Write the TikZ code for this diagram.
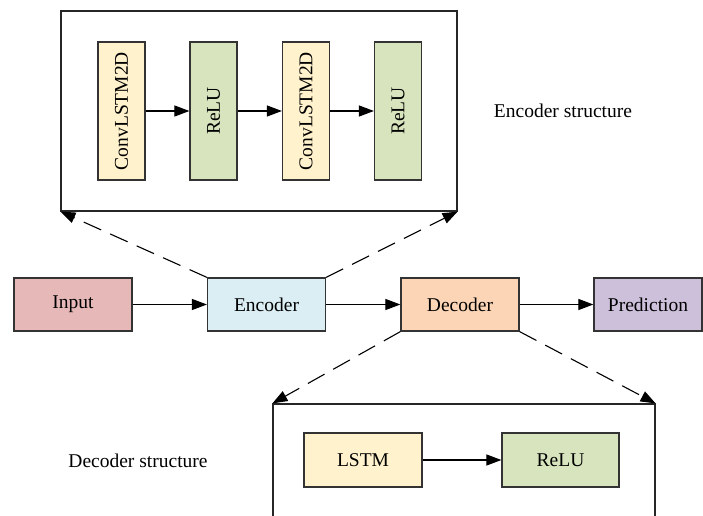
\documentclass[tikz,border=0pt]{standalone}
\usepackage{fontspec}
\setmainfont{Liberation Serif}
\usetikzlibrary{arrows.meta}
\definecolor{inputfill}{HTML}{E6B9B8}
\definecolor{encfill}{HTML}{DAEEF3}
\definecolor{decfill}{HTML}{FBD5B5}
\definecolor{predfill}{HTML}{CCC0DA}
\definecolor{lstmfill}{HTML}{FFF2CC}
\definecolor{relufill}{HTML}{D7E4BD}
\definecolor{boxline}{HTML}{333333}
\tikzset{
  txt/.style={font=\rmfamily\fontsize{19.5bp}{23bp}\selectfont},
  blk/.style={txt, draw=boxline, line width=1.2bp, inner sep=0pt},
  wide/.style={blk, minimum width=118bp, minimum height=53bp},
  tall/.style={blk, rotate=90, minimum width=138bp, minimum height=47bp},
  frame/.style={draw=black!85, line width=1.2bp, inner sep=0pt},
  flow/.style={-{Triangle[length=15bp,width=11bp]}, line width=1.1bp, black},
  zoomline/.style={-{Triangle[length=15bp,width=11bp]}, line width=1.1bp, black,
    dash pattern=on 19bp off 10bp}
}
\begin{document}
\begin{tikzpicture}[x=1bp, y=-1bp]
\clip (0,0) rectangle (703,516);
\fill[white] (0,0) rectangle (703,516);

% encoder detail frame
\node[frame, minimum width=396bp, minimum height=200bp] (encbox) at (259,111) {};
\node[tall, fill=lstmfill] (c1) at (121.5,111) {ConvLSTM2D};
\node[tall, fill=relufill] (r1) at (213.5,111) {ReLU};
\node[tall, fill=lstmfill] (c2) at (306,111) {ConvLSTM2D};
\node[tall, fill=relufill] (r2) at (398,111) {ReLU};
\draw[flow] (c1) -- (r1);
\draw[flow] (r1) -- (c2);
\draw[flow] (c2) -- (r2);
\node[txt] (enccap) at (563,111) {Encoder structure};

% main pipeline
\node[wide, fill=inputfill] (input) at (73,304.5) {Input};
\node[wide, fill=encfill] (enc) at (266.5,304.5) {Encoder};
\node[wide, fill=decfill] (dec) at (460,304.5) {Decoder};
\node[wide, fill=predfill, minimum width=108bp] (pred) at (648,304.5) {Prediction};
\draw[flow] (input) -- (enc);
\draw[flow] (enc) -- (dec);
\draw[flow] (dec) -- (pred);

% decoder detail frame (runs past the lower edge)
\node[frame, minimum width=382bp, minimum height=160bp] (decbox) at (464,484) {};
\node[wide, fill=lstmfill, minimum height=54bp] (lstm) at (363,460) {LSTM};
\node[wide, fill=relufill, minimum width=117bp, minimum height=54bp] (r3) at (560.5,460) {ReLU};
\draw[flow] (lstm) -- (r3);
\node[txt] (deccap) at (138,461) {Decoder structure};

% zoom connectors
\draw[zoomline] (enc.north west) -- (encbox.south west);
\draw[zoomline] (enc.north east) -- (encbox.south east);
\draw[zoomline] (dec.south west) -- (decbox.north west);
\draw[zoomline] (dec.south east) -- (decbox.north east);
\end{tikzpicture}
\end{document}
